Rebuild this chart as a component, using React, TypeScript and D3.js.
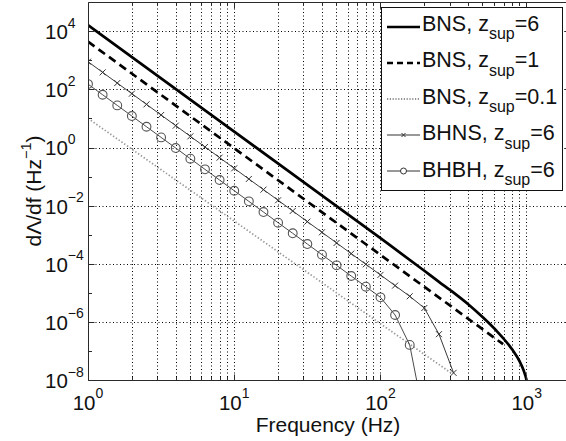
import React from "react";
import * as d3 from "d3";

// ---- data ----
const freqGrid = [1, 1.259, 1.585, 1.995, 2.512, 3.162, 3.981, 5.012, 6.31, 7.943, 10, 12.59, 15.85, 19.95, 25.12, 31.62, 39.81, 50.12, 63.1, 79.43, 100, 125.9, 158.5, 199.5, 251.2, 316.2];

const bhnsValues = [933, 401, 172, 74.1, 31.8, 13.7, 5.89, 2.53, 1.09, 0.468, 0.201, 0.0865, 0.0372, 0.016, 6.87e-3, 2.95e-3, 1.27e-3, 5.46e-4, 2.34e-4, 1.01e-4, 4.34e-5, 1.86e-5, 8.0e-6, 3.16e-6, 3.98e-7, 1.86e-8];

const bhbhValues = [158, 68.1, 29.3, 12.6, 5.41, 2.33, 1.0, 0.43, 0.185, 0.0794, 0.0341, 0.0147, 6.31e-3, 2.71e-3, 1.17e-3, 5.01e-4, 2.15e-4, 9.27e-5, 3.98e-5, 1.71e-5, 7.36e-6, 1.82e-6, 1.7e-7, 4.7e-10];

const bns6Freq = [1, 10, 100, 199.5, 251.2, 316.2, 398.1, 501.2, 631.0, 707.9, 794.3, 891.3, 955, 1000, 1047];
const bns6Values = [1.7e4, 3.66, 7.94e-4, 6.03e-5, 2.51e-5, 1.07e-5, 4.27e-6, 1.51e-6, 4.79e-7, 2.51e-7, 1.2e-7, 4.79e-8, 2.19e-8, 1.0e-8, 2.5e-9];

const bns1Freq = [1, 10, 100, 690];
const bns1Values = [4570, 0.984, 2.12e-4, 1.8e-7];

const bns01Freq = [1, 10, 100, 307];
const bns01Values = [10.5, 3.09e-3, 9.12e-7, 1.78e-8];

const xTickValues = [1, 10, 100, 1000];
const xTickExps = ["0", "1", "2", "3"];
const yTickValues = [1e4, 1e2, 1, 1e-2, 1e-4, 1e-6, 1e-8];
const yTickExps = ["4", "2", "0", "\u22122", "\u22124", "\u22126", "\u22128"];

const legendNames = ["BNS", "BNS", "BNS", "BHNS", "BHBH"];
const legendZ = ["6", "1", "0.1", "6", "6"];

// ---- layout ----
const W = 566;
const H = 441;
const left = 88;
const bottom = 380.7;
const decX = 146.23;
const decY = 29.08;
const FONT = "'Liberation Sans', Arial, Helvetica, sans-serif";

const snap = (v: number) => Math.round(v - 0.5) + 0.5;

export default function App() {
  const x = d3.scaleLog().domain([1, 2000]).range([left, left + decX * Math.log10(2000)]);
  const y = d3.scaleLog().domain([1e-8, 1e5]).range([bottom, bottom - 13 * decY]);
  const [x0, x1] = x.range();
  const [y0, y1] = y.range();
  const sx0 = snap(x0), sy0 = snap(y0), sy1 = snap(y1), sx1 = snap(x1);

  const line = d3
    .line<[number, number]>()
    .x((d) => x(d[0]))
    .y((d) => y(d[1]));
  const smooth = d3
    .line<[number, number]>()
    .x((d) => x(d[0]))
    .y((d) => y(d[1]))
    .curve(d3.curveMonotoneX);

  const zip = (fs: number[], vs: number[]) => vs.map((v, i) => [fs[i], v] as [number, number]);
  const bhns = zip(freqGrid, bhnsValues);
  const bhbh = zip(freqGrid, bhbhValues);
  const bns6 = zip(bns6Freq, bns6Values);
  const bns1 = zip(bns1Freq, bns1Values);
  const bns01 = zip(bns01Freq, bns01Values);

  const gridX: number[] = [];
  [1, 10, 100, 1000].forEach((dec) => {
    for (let m = 1; m <= 9; m++) {
      const f = dec * m;
      if (f > 1 && f < 2000) gridX.push(f);
    }
  });
  const gridY = yTickValues.filter((v) => v > 1e-8);
  const minorY: number[] = [];
  for (let e = -7; e <= 4; e += 2) minorY.push(Math.pow(10, e));

  const gridStyle = { stroke: "#000", strokeWidth: 1, strokeDasharray: "1,2.5" };
  const axisColor = "#2a2a2a";

  // legend
  const lgX = 381.5, lgY = 7.5, lgW = 181, lgH = 183;
  const rowLine = (i: number) => 27 + 36 * i;
  const rowBase = (i: number) => 30.5 + 36.6 * i;

  return (
    <svg width={W} height={H} style={{ position: "absolute", left: 0, top: 0, background: "#fff" }} fontFamily={FONT}>
      <defs>
        <clipPath id="plotclip">
          <rect x={x0} y={y1} width={x1 - x0} height={y0 - y1} />
        </clipPath>
      </defs>
      <rect x={0} y={0} width={W} height={H} fill="#fff" />

      {/* grid */}
      <g>
        {gridX.map((f) => (
          <line key={"gx" + f} x1={snap(x(f))} x2={snap(x(f))} y1={sy0} y2={sy1} {...gridStyle} />
        ))}
        {gridY.map((v) => (
          <line key={"gy" + v} x1={sx0} x2={sx1} y1={snap(y(v))} y2={snap(y(v))} {...gridStyle} />
        ))}
      </g>

      {/* series */}
      <g clipPath="url(#plotclip)" fill="none">
        <path d={line(bns01) || ""} stroke="#999" strokeWidth={1.7} strokeDasharray="1.4,2" />
        <path d={line(bhbh) || ""} stroke="#4a4a4a" strokeWidth={1} />
        {bhbh.map((d, i) => (
          <circle key={"c" + i} cx={x(d[0])} cy={y(d[1])} r={4.4} stroke="#555" strokeWidth={1.1} fill="none" />
        ))}
        <path d={line(bhns) || ""} stroke="#3a3a3a" strokeWidth={1} />
        {bhns.map((d, i) => {
          const cx = x(d[0]);
          const cy = y(d[1]);
          const s = 3;
          return (
            <g key={"x" + i} stroke="#333" strokeWidth={1}>
              <line x1={cx - s} y1={cy - s} x2={cx + s} y2={cy + s} />
              <line x1={cx - s} y1={cy + s} x2={cx + s} y2={cy - s} />
            </g>
          );
        })}
        <path d={line(bns1) || ""} stroke="#000" strokeWidth={2.7} strokeDasharray="8,5" />
        <path d={smooth(bns6) || ""} stroke="#000" strokeWidth={2.7} />
      </g>

      {/* axes box */}
      <g stroke={axisColor} strokeWidth={1} fill="none">
        <line x1={sx0} x2={sx1} y1={sy0} y2={sy0} />
        <line x1={sx0} x2={sx1} y1={sy1} y2={sy1} />
        <line x1={sx0} x2={sx0} y1={sy0} y2={sy1} />
        <line x1={sx1} x2={sx1} y1={sy0} y2={sy1} />
        {gridX.concat([1]).map((f) => {
          const major = xTickValues.indexOf(f) >= 0;
          const len = major ? 6 : 3.5;
          const px = snap(x(f));
          return (
            <g key={"tx" + f}>
              <line x1={px} x2={px} y1={sy0} y2={sy0 - len} />
              <line x1={px} x2={px} y1={sy1} y2={sy1 + len} />
            </g>
          );
        })}
        {yTickValues.map((v) => (
          <g key={"ty" + v}>
            <line x1={sx0} x2={sx0 + 6} y1={snap(y(v))} y2={snap(y(v))} />
            <line x1={sx1} x2={sx1 - 6} y1={snap(y(v))} y2={snap(y(v))} />
          </g>
        ))}
        {minorY.map((v) => (
          <g key={"tmy" + v}>
            <line x1={sx0} x2={sx0 + 3.5} y1={snap(y(v))} y2={snap(y(v))} />
            <line x1={sx1} x2={sx1 - 3.5} y1={snap(y(v))} y2={snap(y(v))} />
          </g>
        ))}
      </g>

      {/* x tick labels */}
      <g fill="#111" fontSize={20.5}>
        {xTickValues.map((f, i) => (
          <text key={"xl" + f} x={x(f)} y={410} textAnchor="middle">
            10
            <tspan dy={-12} fontSize={14}>{xTickExps[i]}</tspan>
          </text>
        ))}
      </g>

      {/* y tick labels */}
      <g fill="#111" fontSize={20.5}>
        {yTickValues.map((v, i) => (
          <text key={"yl" + v} x={45} y={y(v) + 7.3} textAnchor="start">
            10
            <tspan dy={-11.5} fontSize={14}>{yTickExps[i]}</tspan>
          </text>
        ))}
      </g>

      {/* axis titles */}
      <text x={328} y={431.5} textAnchor="middle" fontSize={21} fill="#111">
        Frequency (Hz)
      </text>
      <text transform="translate(40.5,191) rotate(-90)" textAnchor="middle" fontSize={21} fill="#111">
        {"d\u039B/df (Hz"}
        <tspan dy={-9.5} fontSize={14.5}>{"\u22121"}</tspan>
        <tspan dy={9.5}>)</tspan>
      </text>

      {/* legend */}
      <g>
        <rect x={lgX} y={lgY} width={lgW} height={lgH} fill="#fff" stroke="#111" strokeWidth={1} />
        {legendNames.map((name, i) => {
          const ly = rowLine(i);
          const lx1 = 387, lx2 = 420, mx = (lx1 + lx2) / 2;
          let sample: React.ReactNode = null;
          if (i === 0) sample = <line x1={lx1} x2={lx2} y1={ly} y2={ly} stroke="#000" strokeWidth={2.7} />;
          if (i === 1) sample = <line x1={lx1} x2={lx2} y1={ly} y2={ly} stroke="#000" strokeWidth={2.7} strokeDasharray="6,4" />;
          if (i === 2) sample = <line x1={lx1} x2={lx2} y1={ly} y2={ly} stroke="#222" strokeWidth={1.2} strokeDasharray="1.2,1.6" />;
          if (i === 3)
            sample = (
              <g stroke="#333" strokeWidth={1}>
                <line x1={lx1} x2={lx2} y1={ly} y2={ly} />
                <line x1={mx - 2} y1={ly - 2} x2={mx + 2} y2={ly + 2} />
                <line x1={mx - 2} y1={ly + 2} x2={mx + 2} y2={ly - 2} />
              </g>
            );
          if (i === 4)
            sample = (
              <g stroke="#333" strokeWidth={1}>
                <line x1={lx1} x2={mx - 3} y1={ly} y2={ly} />
                <line x1={mx + 3} x2={lx2} y1={ly} y2={ly} />
                <circle cx={mx} cy={ly} r={3} fill="none" />
              </g>
            );
          return (
            <g key={"lg" + i}>
              {sample}
              <text x={422} y={rowBase(i)} fontSize={21.5} fill="#111">
                {name + ", z"}
                <tspan dy={8.5} fontSize={16}>sup</tspan>
                <tspan dy={-8.5}>{"=" + legendZ[i]}</tspan>
              </text>
            </g>
          );
        })}
      </g>
    </svg>
  );
}
